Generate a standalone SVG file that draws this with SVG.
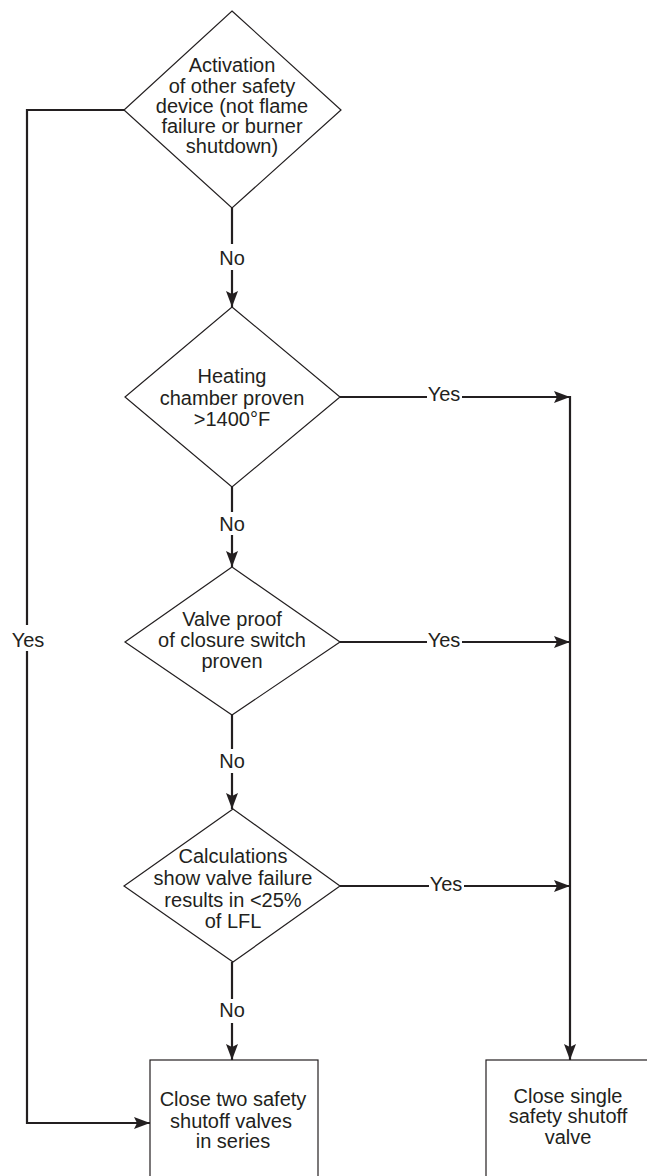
<svg xmlns="http://www.w3.org/2000/svg" width="647" height="1176" viewBox="0 0 647 1176">
<style>
.shape{fill:#fff;stroke:#231f20;stroke-width:1.2}
.conn{fill:none;stroke:#231f20;stroke-width:2.2}
text{font-family:"Liberation Sans",Arial,Helvetica,sans-serif;font-size:20px;fill:#231f20;text-anchor:middle}
</style>
<defs>
<marker id="arr" markerUnits="userSpaceOnUse" markerWidth="17" markerHeight="12" refX="16" refY="6" orient="auto">
<path d="M0,0 L16,6 L0,12 L3,6 z" fill="#231f20"/>
</marker>
</defs>
<rect width="647" height="1176" fill="#fff"/>
<g id="connectors">
<line class="conn" x1="232" y1="208" x2="232" y2="244"/>
<line class="conn" x1="232" y1="270" x2="232" y2="307" marker-end="url(#arr)"/>
<text x="232" y="265">No</text>
<polyline class="conn" points="124,110 27,110 27,625"/>
<polyline class="conn" points="27,651 27,1123 150,1123" marker-end="url(#arr)"/>
<text x="28" y="647">Yes</text>
<line class="conn" x1="232" y1="487" x2="232" y2="512"/>
<line class="conn" x1="232" y1="535" x2="232" y2="567" marker-end="url(#arr)"/>
<text x="232" y="531">No</text>
<line class="conn" x1="232" y1="715" x2="232" y2="749"/>
<line class="conn" x1="232" y1="773" x2="232" y2="809" marker-end="url(#arr)"/>
<text x="232" y="768">No</text>
<line class="conn" x1="232" y1="962" x2="232" y2="999"/>
<line class="conn" x1="232" y1="1023" x2="232" y2="1060" marker-end="url(#arr)"/>
<text x="232" y="1017">No</text>
<line class="conn" x1="340" y1="397" x2="427" y2="397"/>
<line class="conn" x1="462" y1="397" x2="570" y2="397" marker-end="url(#arr)"/>
<text x="444" y="401">Yes</text>
<line class="conn" x1="340" y1="642" x2="427" y2="642"/>
<line class="conn" x1="462" y1="642" x2="570" y2="642" marker-end="url(#arr)"/>
<text x="444" y="647">Yes</text>
<line class="conn" x1="340" y1="886" x2="429" y2="886"/>
<line class="conn" x1="464" y1="886" x2="570" y2="886" marker-end="url(#arr)"/>
<text x="446" y="891">Yes</text>
<line class="conn" x1="570" y1="396" x2="570" y2="1060" marker-end="url(#arr)"/>
</g>
<g id="d1">
<polygon class="shape" points="232,11 341,110 232,208 124,110"/>
<text x="232" y="72">Activation</text>
<text x="232" y="93">of other safety</text>
<text x="232" y="113">device (not flame</text>
<text x="232" y="133">failure or burner</text>
<text x="232" y="153">shutdown)</text>
</g>
<g id="d2">
<polygon class="shape" points="232,307 340,397 232,487 125,397"/>
<text x="232" y="383">Heating</text>
<text x="232" y="405">chamber proven</text>
<text x="232" y="426">&gt;1400°F</text>
</g>
<g id="d3">
<polygon class="shape" points="232,567 340,642 232,715 125,642"/>
<text x="232" y="626">Valve proof</text>
<text x="232" y="647">of closure switch</text>
<text x="232" y="668">proven</text>
</g>
<g id="d4">
<polygon class="shape" points="233,809 340,886 233,962 124,886"/>
<text x="233" y="863">Calculations</text>
<text x="233" y="885">show valve failure</text>
<text x="233" y="907">results in &lt;25%</text>
<text x="233" y="928">of LFL</text>
</g>
<g id="box1">
<rect class="shape" x="150" y="1060" width="168" height="130"/>
<text x="233" y="1106">Close two safety</text>
<text x="231" y="1128">shutoff valves</text>
<text x="233" y="1148">in series</text>
</g>
<g id="box2">
<rect class="shape" x="486" y="1060" width="168" height="130"/>
<text x="568" y="1103">Close single</text>
<text x="568" y="1123">safety shutoff</text>
<text x="568" y="1144">valve</text>
</g>
</svg>
